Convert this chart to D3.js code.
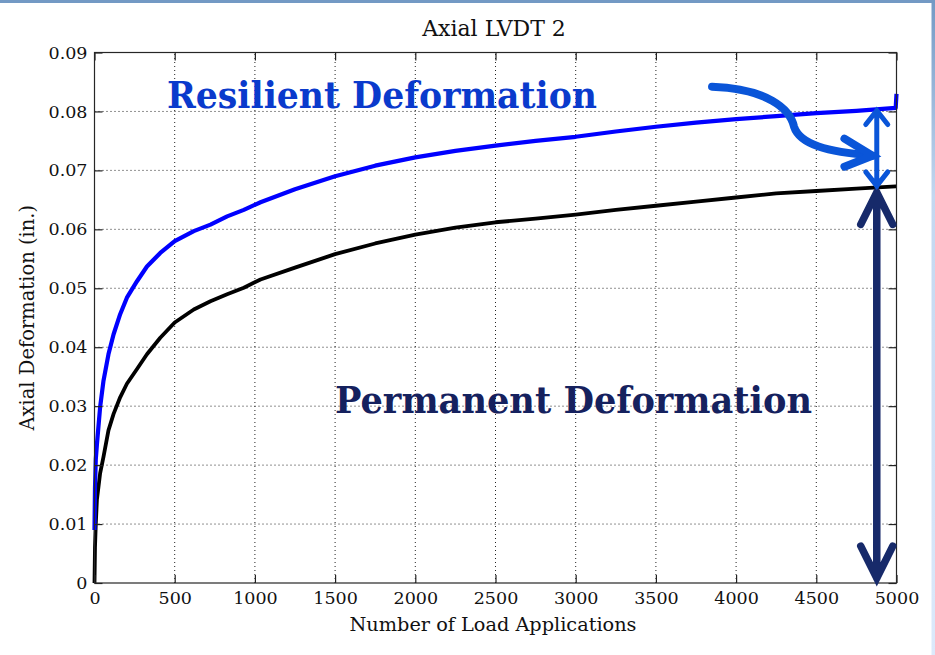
<!DOCTYPE html>
<html>
<head>
<meta charset="utf-8">
<script src="https://cdn.jsdelivr.net/npm/d3@7"></script>
<style>
  html, body { margin: 0; padding: 0; background: #fff; }
  svg { display: block; }
</style>
</head>
<body>
<div id="chart"></div>
<script>
// load applications (x) and the two traces
var loadApps = [0, 3, 8, 15, 35, 56, 87, 119, 160, 202, 265, 327, 410, 500, 619, 723, 827, 931, 1035,
  1250, 1500, 1750, 2000, 2250, 2500, 2750, 3000, 3250, 3500, 3750, 4000, 4250, 4500, 4750, 4995, 5000];
var totalDef = [0.009, 0.016, 0.021, 0.0235, 0.0298, 0.0343, 0.0388, 0.0422, 0.0456, 0.0484, 0.0512, 0.0537,
  0.0560, 0.0580, 0.0597, 0.0608, 0.0622, 0.0633, 0.0646, 0.0668, 0.0690, 0.0708, 0.0722, 0.0733, 0.0742,
  0.0750, 0.0757, 0.0766, 0.0774, 0.0781, 0.0787, 0.0792, 0.0797, 0.0801, 0.0806, 0.0830];
var permDef = [0, 0.006, 0.010, 0.0141, 0.0186, 0.0214, 0.0259, 0.0287, 0.0315, 0.0338, 0.0363, 0.0388,
  0.0416, 0.0442, 0.0464, 0.0478, 0.0490, 0.0501, 0.0515, 0.0535, 0.0558, 0.0576, 0.0591, 0.0603, 0.0612,
  0.0618, 0.0625, 0.0633, 0.0640, 0.0647, 0.0654, 0.0661, 0.0665, 0.0669, 0.0673, 0.0673];

var xTicks = [0, 500, 1000, 1500, 2000, 2500, 3000, 3500, 4000, 4500, 5000];
var yTicks = [0, 0.01, 0.02, 0.03, 0.04, 0.05, 0.06, 0.07, 0.08, 0.09];

var title = "Axial LVDT 2";
var xLabel = "Number of Load Applications";
var yLabel = "Axial Deformation (in.)";
var resilientText = "Resilient Deformation";
var permanentText = "Permanent Deformation";

// where the arrows sit, in data units
var arrowX = 4877;

var W = 935, H = 655;
var serif = "'DejaVu Serif', serif";

var svg = d3.select('#chart').append('svg')
  .attr('width', W).attr('height', H);

// slide frame
var defs = svg.append('defs');
var grad = defs.append('linearGradient').attr('id', 'edge')
  .attr('x1', 0).attr('y1', 0).attr('x2', 0).attr('y2', 1);
grad.append('stop').attr('offset', 0).attr('stop-color', '#7399c4');
grad.append('stop').attr('offset', 0.3).attr('stop-color', '#c3d7f0');
grad.append('stop').attr('offset', 1).attr('stop-color', '#dce9fb');

svg.append('rect').attr('width', W).attr('height', H).attr('fill', '#fff');
svg.append('rect').attr('x', 931.5).attr('y', 0).attr('width', W - 931.5).attr('height', H)
  .attr('fill', 'url(#edge)');
svg.append('rect').attr('x', 0).attr('y', 0).attr('width', W).attr('height', 3).attr('fill', '#7399c4');

var x = d3.scaleLinear().domain([0, 5000]).range([94.5, 896.5]);
var y = d3.scaleLinear().domain([0, 0.09]).range([583, 52.5]);

var plot = svg.append('g');

// dotted grid
plot.selectAll('.gx').data(xTicks.slice(1, -1)).enter().append('line')
  .attr('x1', function(d) { return x(d); }).attr('x2', function(d) { return x(d); })
  .attr('y1', y(0)).attr('y2', y(0.09))
  .attr('stroke', '#222').attr('stroke-width', 1).attr('stroke-dasharray', '1,3');
plot.selectAll('.gy').data(yTicks.slice(1, -1)).enter().append('line')
  .attr('y1', function(d) { return y(d); }).attr('y2', function(d) { return y(d); })
  .attr('x1', x(0)).attr('x2', x(5000))
  .attr('stroke', '#222').attr('stroke-width', 1).attr('stroke-dasharray', '1,3');

// curves
var pts = function(arr) {
  return loadApps.map(function(d, i) { return [d, arr[i]]; });
};
var line = d3.line()
  .x(function(d) { return x(d[0]); })
  .y(function(d) { return y(d[1]); });

plot.append('path').datum(pts(permDef))
  .attr('d', line).attr('fill', 'none')
  .attr('stroke', '#000').attr('stroke-width', 3.8).attr('stroke-linejoin', 'round');
plot.append('path').datum(pts(totalDef))
  .attr('d', line).attr('fill', 'none')
  .attr('stroke', '#0000ff').attr('stroke-width', 4.2).attr('stroke-linejoin', 'round');

// axes, ticks pointing inward on all four sides
var tickLen = 8;
var styleAxis = function(g) {
  g.select('.domain').remove();
  g.selectAll('.tick line').attr('stroke', '#222').attr('stroke-width', 1.2);
  g.selectAll('.tick text').attr('fill', '#111')
    .style('font-family', serif).style('font-size', '17.5px');
};

svg.append('g').attr('transform', 'translate(0,' + y(0) + ')')
  .call(d3.axisBottom(x).tickValues(xTicks).tickSize(-tickLen).tickPadding(9).tickFormat(d3.format('d')))
  .call(styleAxis);
svg.append('g').attr('transform', 'translate(0,' + y(0.09) + ')')
  .call(d3.axisTop(x).tickValues(xTicks).tickSize(-tickLen).tickFormat(''))
  .call(styleAxis);
svg.append('g').attr('transform', 'translate(' + x(0) + ',0)')
  .call(d3.axisLeft(y).tickValues(yTicks).tickSize(-tickLen).tickPadding(7)
    .tickFormat(function(d) { return d === 0 ? '0' : d3.format('.2f')(d); }))
  .call(styleAxis);
svg.append('g').attr('transform', 'translate(' + x(5000) + ',0)')
  .call(d3.axisRight(y).tickValues(yTicks).tickSize(-tickLen).tickFormat(''))
  .call(styleAxis);

svg.append('rect')
  .attr('x', x(0)).attr('y', y(0.09))
  .attr('width', x(5000) - x(0)).attr('height', y(0) - y(0.09))
  .attr('fill', 'none').attr('stroke', '#262626').attr('stroke-width', 1.2);

// title and axis labels
svg.append('text').attr('x', 494).attr('y', 36)
  .attr('text-anchor', 'middle').attr('fill', '#111')
  .style('font-family', serif).style('font-size', '22px')
  .text(title);
svg.append('text').attr('x', 493).attr('y', 631)
  .attr('text-anchor', 'middle').attr('fill', '#111')
  .style('font-family', serif).style('font-size', '19.3px')
  .text(xLabel);
svg.append('text')
  .attr('transform', 'translate(34,' + ((y(0) + y(0.09)) / 2) + ') rotate(-90)')
  .attr('text-anchor', 'middle').attr('fill', '#111')
  .style('font-family', serif).style('font-size', '19.5px')
  .text(yLabel);

// annotations
svg.append('text').attr('x', 167).attr('y', 108)
  .attr('fill', '#0a3acc')
  .attr('textLength', 430).attr('lengthAdjust', 'spacingAndGlyphs')
  .style('font-family', serif).style('font-weight', 'bold').style('font-size', '37px')
  .text(resilientText);
svg.append('text').attr('x', 335).attr('y', 413)
  .attr('fill', '#15215e')
  .attr('textLength', 477).attr('lengthAdjust', 'spacingAndGlyphs')
  .style('font-family', serif).style('font-weight', 'bold').style('font-size', '37px')
  .text(permanentText);

var ax = x(arrowX);
var blueTop = y(0.0805), blueBot = y(0.0672);
var navyTop = y(0.0666), navyBot = y(0.0005);

var doubleArrow = function(top, bot, head, spread, color, width) {
  var p = 'M' + ax + ',' + top + 'L' + ax + ',' + bot +
    'M' + (ax - spread) + ',' + (top + head) + 'L' + ax + ',' + top + 'L' + (ax + spread) + ',' + (top + head) +
    'M' + (ax - spread) + ',' + (bot - head) + 'L' + ax + ',' + bot + 'L' + (ax + spread) + ',' + (bot - head);
  svg.append('path').attr('d', p).attr('fill', 'none')
    .attr('stroke', color).attr('stroke-width', width)
    .attr('stroke-linecap', 'round').attr('stroke-linejoin', 'miter');
};
doubleArrow(navyTop + 2, navyBot - 2, 32, 16, '#172a6a', 7.5);
doubleArrow(blueTop + 2, blueBot - 1, 14, 11, '#0a55d8', 5);

// curved pointer from the label towards the gap
var curveStart = [3850, 0.0842];
var curveEnd = [4850, 0.0725];
var sx = x(curveStart[0]), sy = y(curveStart[1]);
var ex = x(curveEnd[0]), ey = y(curveEnd[1]);
var curve = 'M' + sx + ',' + sy +
  'C' + (sx + 55) + ',' + (sy + 2) + ' ' + (sx + 78) + ',' + (sy + 22) + ' ' + (sx + 82) + ',' + (sy + 40) +
  'C' + (sx + 88) + ',' + (sy + 58) + ' ' + (ex - 45) + ',' + (ey - 4) + ' ' + ex + ',' + ey;
svg.append('path').attr('d', curve).attr('fill', 'none')
  .attr('stroke', '#0a55d8').attr('stroke-width', 8).attr('stroke-linecap', 'round');
svg.append('path')
  .attr('d', 'M' + (ex - 28) + ',' + (ey - 17) + 'L' + ex + ',' + ey + 'L' + (ex - 28) + ',' + (ey + 11))
  .attr('fill', 'none').attr('stroke', '#0a55d8').attr('stroke-width', 8)
  .attr('stroke-linecap', 'round').attr('stroke-linejoin', 'miter');
</script>
</body>
</html>
